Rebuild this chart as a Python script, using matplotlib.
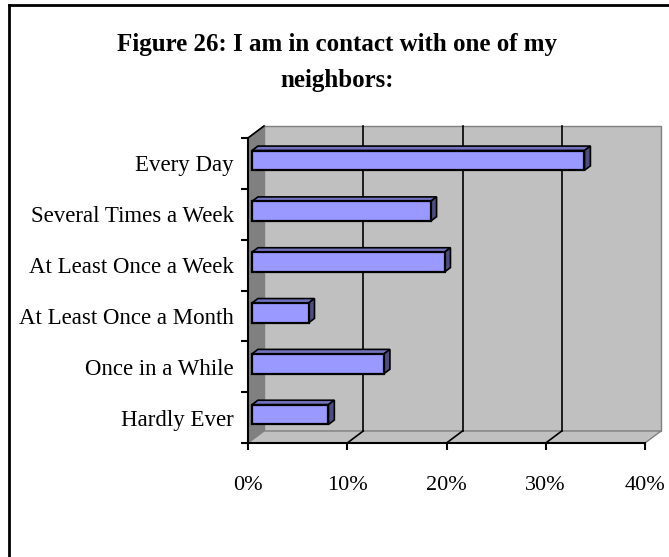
import matplotlib

matplotlib.use("Agg", force=True)
import matplotlib.pyplot as plt
from matplotlib.lines import Line2D
from matplotlib.patches import Polygon

# Data (percent of respondents)
categories = [
    "Hardly Ever",
    "Once in a While",
    "At Least Once a Month",
    "At Least Once a Week",
    "Several Times a Week",
    "Every Day",
]
values = [7.7, 13.3, 5.7, 19.4, 18.0, 33.5]
x_ticks = [0, 10, 20, 30, 40]
x_tick_labels = ["0%", "10%", "20%", "30%", "40%"]
title = "Figure 26: I am in contact with one of my\nneighbors:"

W, H, DPI = 669, 557, 100
SERIF = "Liberation Serif"

fig = plt.figure(figsize=(W / DPI, H / DPI), dpi=DPI)
fig.patch.set_facecolor("white")

# front plane of the 3-D plot, in pixels of the reference
left_px, right_px, top_px, bottom_px = 248, 645, 138, 443
ax = fig.add_axes([
    left_px / W,
    1 - bottom_px / H,
    (right_px - left_px) / W,
    (bottom_px - top_px) / H,
])
xmax = x_ticks[-1]
n = len(categories)
ax.set_xlim(0, xmax)
ax.set_ylim(-0.5, n - 0.5)
ax.patch.set_visible(False)

# depth of the 3-D box, converted from pixels into data units
depth_x = 16 * xmax / (right_px - left_px)
depth_y = 12 * n / (bottom_px - top_px)


def pt(x, y, d):
    return (x + d * depth_x, y + d * depth_y)


def face(points, fc, ec, lw=1.0, z=1):
    ax.add_patch(Polygon(points, closed=True, facecolor=fc, edgecolor=ec,
                         linewidth=lw, clip_on=False, zorder=z,
                         joinstyle="miter"))


y0, y1 = -0.5, n - 0.5
# back wall, side wall, floor
face([pt(0, y0, 1), pt(xmax, y0, 1), pt(xmax, y1, 1), pt(0, y1, 1)], "#C0C0C0", "#808080")
face([pt(0, y0, 0), pt(0, y1, 0), pt(0, y1, 1), pt(0, y0, 1)], "#808080", "#808080")
face([pt(0, y0, 0), pt(xmax, y0, 0), pt(xmax, y0, 1), pt(0, y0, 1)], "#C0C0C0", "#808080")

# gridlines on the wall and floor
for xv in x_ticks[1:-1]:
    ax.plot(*zip(pt(xv, y0, 1), pt(xv, y1, 1)), color="black", lw=1.2, clip_on=False, zorder=1.5)
    ax.plot(*zip(pt(xv, y0, 0), pt(xv, y0, 1)), color="black", lw=1.2, clip_on=False, zorder=1.5)
ax.plot(*zip(pt(0, y1, 0), pt(0, y1, 1)), color="black", lw=1.2, clip_on=False, zorder=1.5)

# 3-D bars
bar_h = 0.39
d1, d2 = 0.25, 0.62
front_c, top_c, side_c = "#9999FF", "#7373BF", "#4D4D80"
for i, v in enumerate(values):
    lo, hi = i - bar_h / 2, i + bar_h / 2
    face([pt(0, hi, d1), pt(v, hi, d1), pt(v, hi, d2), pt(0, hi, d2)], top_c, "black", 1.2, 3)
    face([pt(v, lo, d1), pt(v, lo, d2), pt(v, hi, d2), pt(v, hi, d1)], side_c, "black", 1.2, 3)
    face([pt(0, lo, d1), pt(v, lo, d1), pt(v, hi, d1), pt(0, hi, d1)], front_c, "black", 1.6, 4)

# axes, ticks and labels
for side in ("top", "right"):
    ax.spines[side].set_visible(False)
for side in ("left", "bottom"):
    ax.spines[side].set_linewidth(1.5)
    ax.spines[side].set_zorder(5)

ax.set_xticks(x_ticks)
ax.set_xticklabels(x_tick_labels, fontfamily=SERIF, fontsize=16)
ax.tick_params(axis="x", direction="out", length=5, width=1.5, pad=19)

ax.set_yticks([k - 0.5 for k in range(n + 1)])
ax.set_yticklabels([])
ax.tick_params(axis="y", which="major", direction="out", length=5, width=1.5)
ax.set_yticks(range(n), minor=True)
ax.set_yticklabels(categories, minor=True, fontfamily=SERIF, fontsize=16.5)
ax.tick_params(axis="y", which="minor", length=0, pad=10)

fig.text(0.504, 0.888, title, ha="center", va="center", fontfamily=SERIF,
         fontweight="bold", fontsize=18, linespacing=1.75)

# chart frame (only left and top edges fall inside the picture)
fig.add_artist(Line2D([9 / W, 9 / W], [1 - 5 / H, -0.1], color="black", lw=2))
fig.add_artist(Line2D([9 / W, 1.1], [1 - 5 / H, 1 - 5 / H], color="black", lw=2))

fig.savefig("out.png", dpi=DPI)
